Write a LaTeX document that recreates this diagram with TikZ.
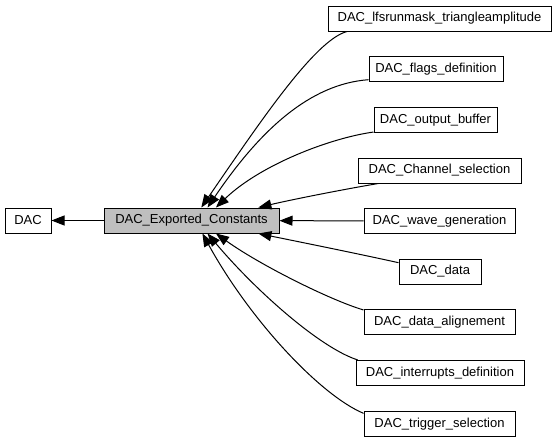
\documentclass[tikz,border=0pt]{standalone}
\usepackage{fontspec}
\setmainfont{Liberation Sans}
\usepackage{tikz}
\usetikzlibrary{arrows.meta}

\tikzset{
  box/.style={draw, fill=white, line width=0.75pt, inner sep=0pt,
    minimum height=25*0.75pt, font=\fontsize{9.75}{11}\selectfont},
  wd/.style={minimum width=#1*0.75pt},
  edge/.style={line width=0.75pt, -{Triangle[length=9.75pt,width=7.5pt]}}
}

\begin{document}
\begin{tikzpicture}[x=0.75pt,y=0.75pt,yscale=-1,xscale=1]
\useasboundingbox (0,0) rectangle (557,443);

% Text Node
\node [box, wd=46] (dac) at (28,220.5) {DAC};
% Text Node
\node [box, wd=175, fill={rgb, 255:red, 191; green, 191; blue, 191}] (exp) at (191.5,220.5) {DAC\_Exported\_Constants};

% Text Node
\node [box, wd=223] (lfsr) at (439.5,18.5) {DAC\_lfsrunmask\_triangleamplitude};
% Text Node
\node [box, wd=134] (flags) at (436,69) {DAC\_flags\_definition};
% Text Node
\node [box, wd=123] (outbuf) at (435.5,120) {DAC\_output\_buffer};
% Text Node
\node [box, wd=163] (chsel) at (439.5,170.5) {DAC\_Channel\_selection};
% Text Node
\node [box, wd=151] (wave) at (439.5,221) {DAC\_wave\_generation};
% Text Node
\node [box, wd=82] (data) at (440,271.5) {DAC\_data};
% Text Node
\node [box, wd=151] (align) at (439.5,322) {DAC\_data\_alignement};
% Text Node
\node [box, wd=168] (intr) at (440,373) {DAC\_interrupts\_definition};
% Text Node
\node [box, wd=151] (trig) at (439.5,424) {DAC\_trigger\_selection};

% Edges
\draw [edge] (exp) -- (dac);
\draw [edge] (lfsr.188) .. controls (315,40) and (260,122) .. (exp.53);
\draw [edge] (flags.189) .. controls (310,84) and (260,130) .. (exp.39);
\draw [edge] (outbuf.191) .. controls (330,138) and (260,165) .. (exp.28);
\draw [edge] (chsel.192) .. controls (340,190) and (290,200) .. (exp.11);
\draw [edge] (wave) -- (exp);
\draw [edge] (data.168) .. controls (350,252) and (290,240) .. (exp.349);
\draw [edge] (align.171) .. controls (330,300) and (260,265) .. (exp.332);
\draw [edge] (intr.171) .. controls (320,348) and (255,290) .. (exp.321);
\draw [edge] (trig.172) .. controls (320,395) and (250,320) .. (exp.310);

\end{tikzpicture}
\end{document}
